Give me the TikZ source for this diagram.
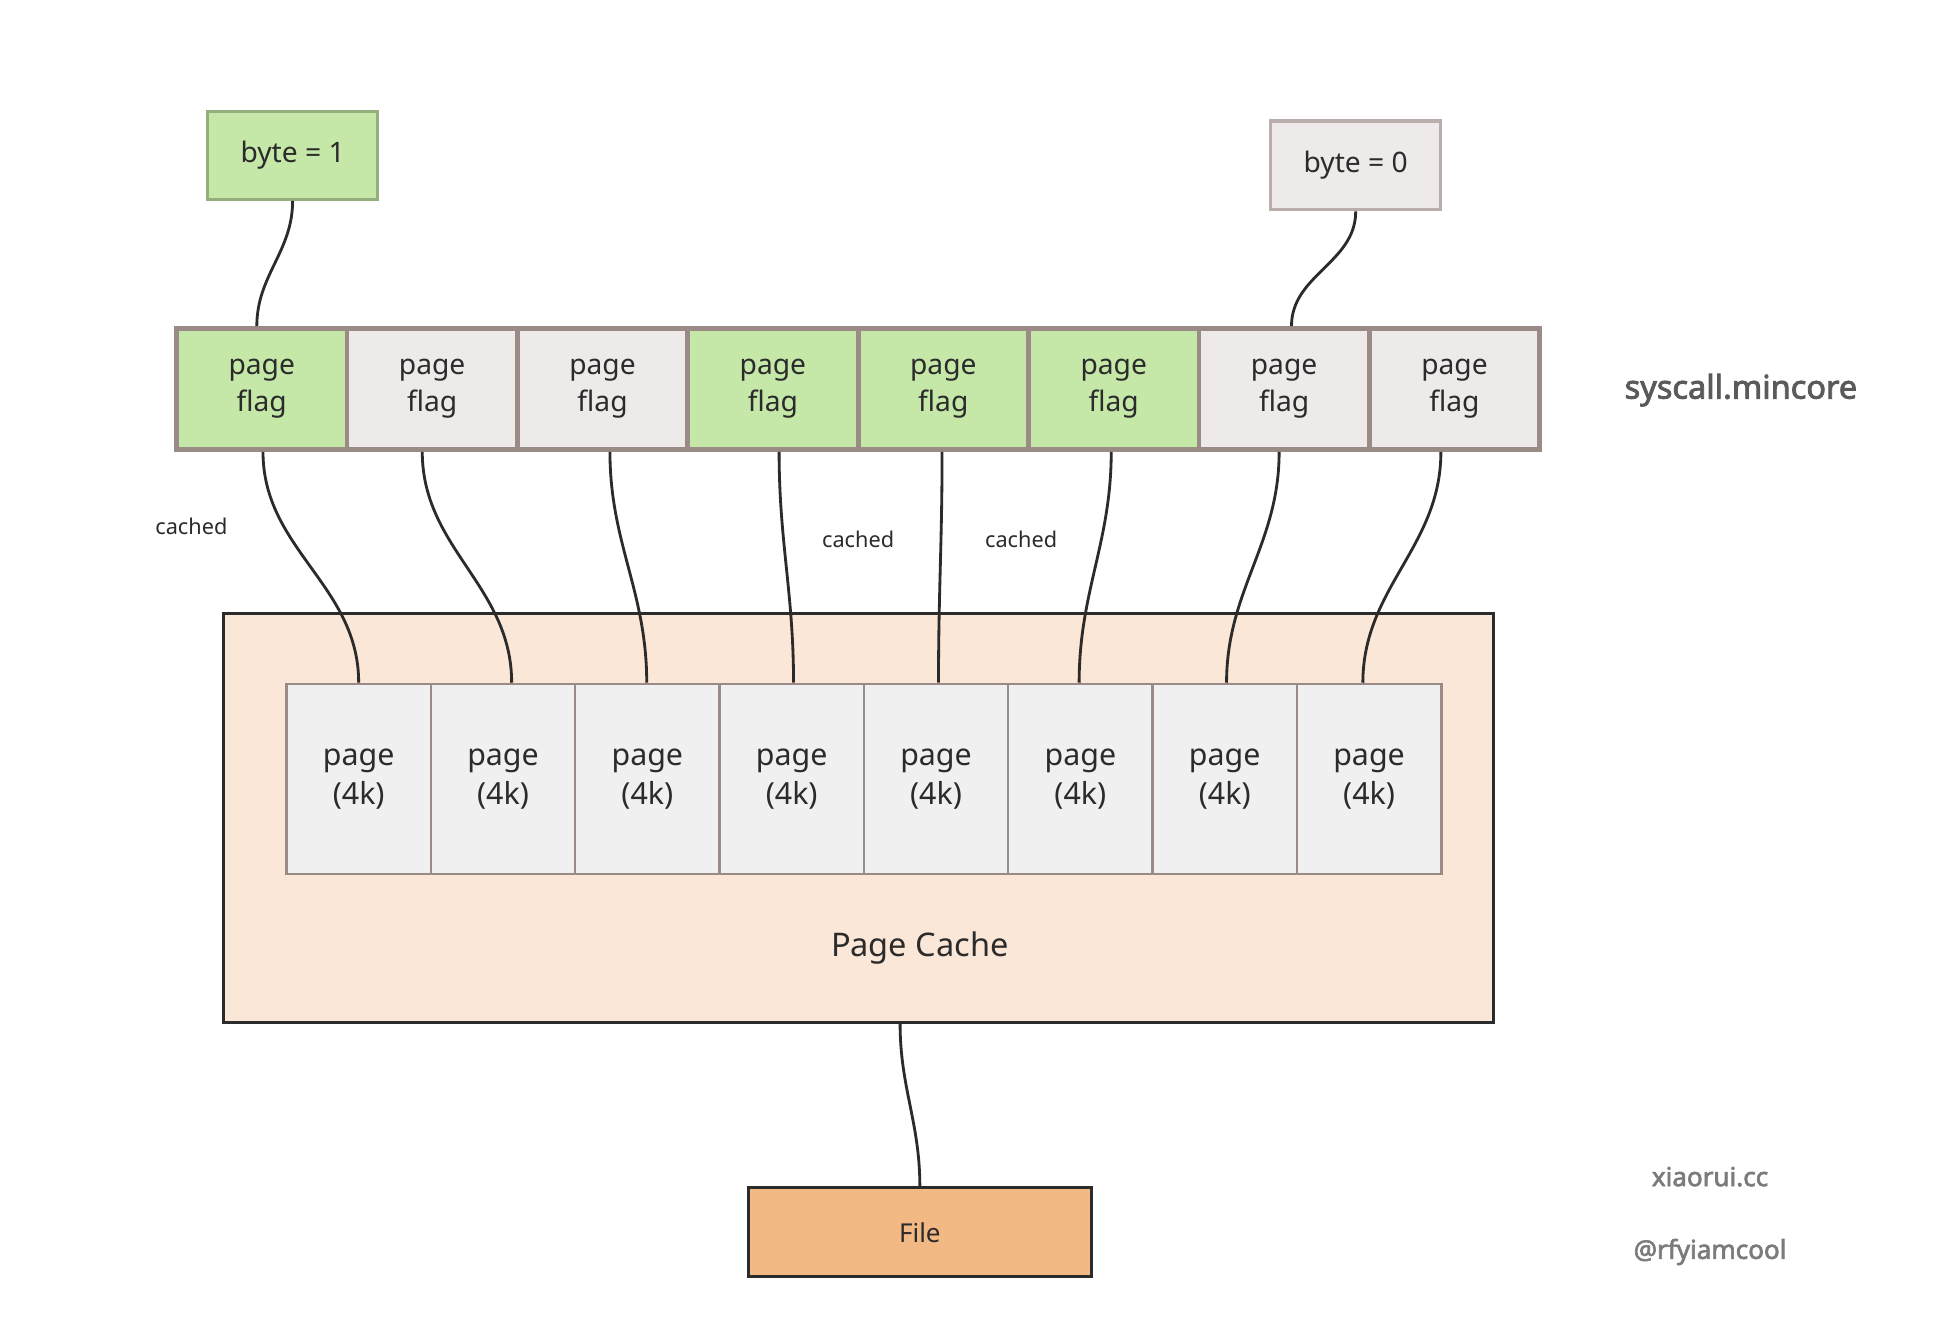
\documentclass[tikz,border=0pt]{standalone}
\usepackage{fontspec}
\setmainfont{Noto Sans}
\newfontfamily\boldf{Noto Sans}[FakeBold=2.5]
\begin{document}
\begin{tikzpicture}[x=0.02cm,y=-0.02cm,
  flagg/.style={draw=flagb,line width=2.2pt,fill=gr,minimum width=2.76cm,minimum height=1.96cm,inner sep=0,align=center,font=\fontsize{13}{16}\selectfont,text=txt},
  flagw/.style={flagg,fill=wh},
  pg/.style={draw=flagb,line width=1.2pt,fill=pgf,minimum width=2.34cm,minimum height=3.08cm,inner sep=0,align=center,font=\fontsize{14}{17}\selectfont,text=txt},
  con/.style={draw=txt,line width=1.3pt},
  lbl/.style={font=\fontsize{10}{12}\selectfont,text=txt}]
\definecolor{gr}{HTML}{C5E8A8}
\definecolor{wh}{HTML}{EEEAE9}
\definecolor{flagb}{HTML}{9B8B87}
\definecolor{pgf}{HTML}{F0F0F0}
\definecolor{pcf}{HTML}{FAE7D7}
\definecolor{filef}{HTML}{F2B985}
\definecolor{txt}{HTML}{2B2B2B}
\definecolor{gray5}{HTML}{5A5A5A}
\useasboundingbox[fill=white] (0,0) rectangle (1568,1088);
\node[draw=black!25!gr,line width=1.4pt,fill=gr,minimum width=2.76cm,minimum height=1.42cm,font=\fontsize{13}{16}\selectfont,text=txt] (b1) at (237,126) {byte = 1};
\node[draw=flagb!70,line width=1.4pt,fill=wh,minimum width=2.76cm,minimum height=1.44cm,font=\fontsize{13}{16}\selectfont,text=txt] (b0) at (1098,134) {byte = 0};
\node[draw=txt,line width=1.4pt,fill=pcf,minimum width=20.58cm,minimum height=6.62cm] (pc) at (695.5,662.5) {};
\node[font=\fontsize{15}{18}\selectfont,text=txt] (pcl) at (745,768) {Page Cache};
\foreach \i/\s in {1/flagg,2/flagw,3/flagw,4/flagg,5/flagg,6/flagg,7/flagw,8/flagw}{
  \node[\s] (f\i) at ({212+138*(\i-1)},315) {\raisebox{-4pt}{\shortstack{page\\[1pt]flag}}};
  \node[pg] (p\i) at ({290.5+116.9*(\i-1)},631) {\raisebox{-5pt}{\shortstack{page\\[1pt](4k)}}};
}
\foreach \i/\a/\b in {1/1/0,2/-8/7,3/6/-0.5,4/5/1.5,5/-1/2,6/-2/-1,7/-4/1.5,8/-11/-5}{
  \draw[con] ([xshift=\a*0.02cm]f\i.south) to[out=-90,in=90] ([xshift=\b*0.02cm]p\i.north);
}
\node[draw=txt,line width=1.4pt,fill=filef,minimum width=5.56cm,minimum height=1.44cm,font=\fontsize{12}{15}\selectfont,text=txt] (file) at (745,998) {File};
\draw[con] ([xshift=0.67cm]pc.south) to[out=-90,in=90] (file.north);
\draw[con] (b1.south) to[out=-90,in=90] ([xshift=-0.08cm]f1.north);
\draw[con] (b0.south) to[out=-90,in=90] ([xshift=0.12cm]f7.north);
\node[font=\boldf\fontsize{15}{18}\selectfont,text=gray5] (sys) at (1410,316) {syscall.mincore};
\node[lbl] (c1) at (155,426) {cached};
\node[lbl] (c2) at (695,437) {cached};
\node[lbl] (c3) at (827,437) {cached};
\node[font=\boldf\fontsize{12}{15}\selectfont,text=gray5!80] (x1) at (1385,953) {xiaorui.cc};
\node[font=\boldf\fontsize{12}{15}\selectfont,text=gray5!80] (x2) at (1385,1014) {@rfyiamcool};
\end{tikzpicture}
\end{document}
